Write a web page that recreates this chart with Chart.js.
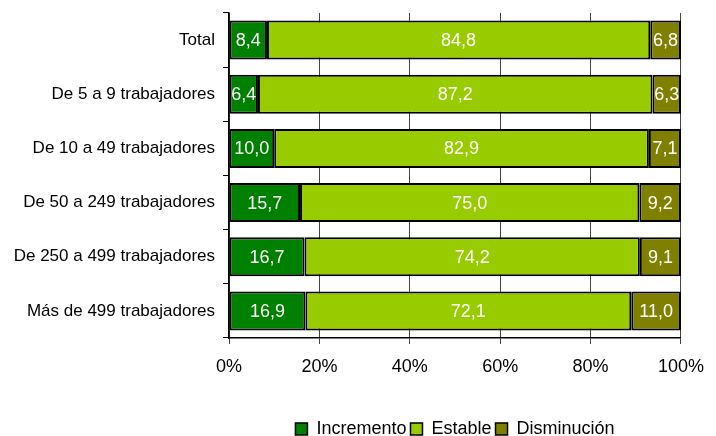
<!DOCTYPE html>
<html lang="es">
<head>
  <meta charset="UTF-8" />
  <title>Evolución del empleo por tamaño de empresa</title>
  <script src="https://cdn.jsdelivr.net/npm/chart.js"></script>
  <style>
    html, body { margin: 0; padding: 0; background: #fff; }
    #wrap { width: 716px; height: 436px; }
  </style>
</head>
<body>
  <div id="wrap"><canvas id="chart" width="716" height="436"></canvas></div>

  <script>
    const categorias = [
      "Total",
      "De 5 a 9 trabajadores",
      "De 10 a 49 trabajadores",
      "De 50 a 249 trabajadores",
      "De 250 a 499 trabajadores",
      "Más de 499 trabajadores"
    ];
    const incremento = [8.4, 6.4, 10.0, 15.7, 16.7, 16.9];
    const estable = [84.8, 87.2, 82.9, 75.0, 74.2, 72.1];
    const disminucion = [6.8, 6.3, 7.1, 9.2, 9.1, 11.0];
    const ticksX = [0, 20, 40, 60, 80, 100];

    const fuente = "'Liberation Sans', Arial, sans-serif";

    // cada barra se muestra al 100 %
    const totales = categorias.map((c, i) => incremento[i] + estable[i] + disminucion[i]);
    const pct = arr => arr.map((v, i) => v / totales[i] * 100);

    const series = [
      { label: "Incremento", valores: incremento, color: "#008000" },
      { label: "Estable", valores: estable, color: "#99CC00" },
      { label: "Disminución", valores: disminucion, color: "#808000" }
    ];

    // etiquetas blancas dentro de cada segmento
    const etiquetas = {
      id: "etiquetas",
      afterDatasetsDraw(chart) {
        const ctx = chart.ctx;
        ctx.save();
        ctx.font = "18px " + fuente;
        ctx.fillStyle = "#fff";
        ctx.textAlign = "center";
        ctx.textBaseline = "middle";
        chart.data.datasets.forEach((ds, d) => {
          chart.getDatasetMeta(d).data.forEach((bar, i) => {
            const txt = ds.originales[i].toFixed(1).replace(".", ",");
            ctx.fillText(txt, (bar.x + bar.base) / 2, bar.y + 1);
          });
        });
        ctx.restore();
      }
    };

    // la leyenda va centrada bajo el área del gráfico, no bajo el lienzo
    const leyendaCentrada = {
      id: "leyendaCentrada",
      afterLayout(chart) {
        const area = chart.chartArea;
        const dx = (area.left + area.right) / 2 - (chart.legend.left + chart.legend.right) / 2;
        chart.legend.left += dx;
        chart.legend.right += dx;
      }
    };

    new Chart(document.getElementById("chart"), {
      type: "bar",
      data: {
        labels: categorias,
        datasets: series.map(s => ({
          label: s.label,
          data: pct(s.valores),
          originales: s.valores,
          backgroundColor: s.color,
          borderColor: "#000",
          borderWidth: 2,
          borderSkipped: false,
          categoryPercentage: 0.72,
          barPercentage: 1.0
        }))
      },
      options: {
        indexAxis: "y",
        responsive: false,
        animation: false,
        layout: { padding: { top: 13, right: 34, left: 1, bottom: -12 } },
        plugins: {
          tooltip: { enabled: false },
          legend: {
            position: "bottom",
            labels: {
              font: { family: fuente, size: 18 },
              color: "#000",
              boxWidth: 12,
              boxHeight: 12,
              padding: 4,
              generateLabels(chart) {
                return chart.data.datasets.map((ds, i) => ({
                  text: ds.label,
                  fillStyle: ds.backgroundColor,
                  strokeStyle: "#000",
                  lineWidth: 1.5,
                  datasetIndex: i
                }));
              }
            }
          }
        },
        scales: {
          x: {
            stacked: true,
            min: 0,
            max: 100,
            afterBuildTicks(scale) {
              scale.ticks = ticksX.map(v => ({ value: v }));
            },
            afterFit(scale) { scale.height = 78; },
            ticks: {
              color: "#000",
              font: { family: fuente, size: 18 },
              callback: v => v + "%",
              padding: 12
            },
            grid: { color: "#444", lineWidth: 1, tickLength: 6 },
            border: { color: "#000", width: 1.5 }
          },
          y: {
            stacked: true,
            afterFit(scale) {
              scale.width = 228;
              scale.paddingTop = 0;
              scale.paddingBottom = 0;
            },
            ticks: {
              color: "#000",
              font: { family: fuente, size: 17 },
              padding: 8
            },
            grid: { offset: true, drawOnChartArea: false, color: "#000", tickLength: 6 },
            border: { color: "#000", width: 1.5 }
          }
        }
      },
      plugins: [etiquetas, leyendaCentrada]
    });
  </script>
</body>
</html>
